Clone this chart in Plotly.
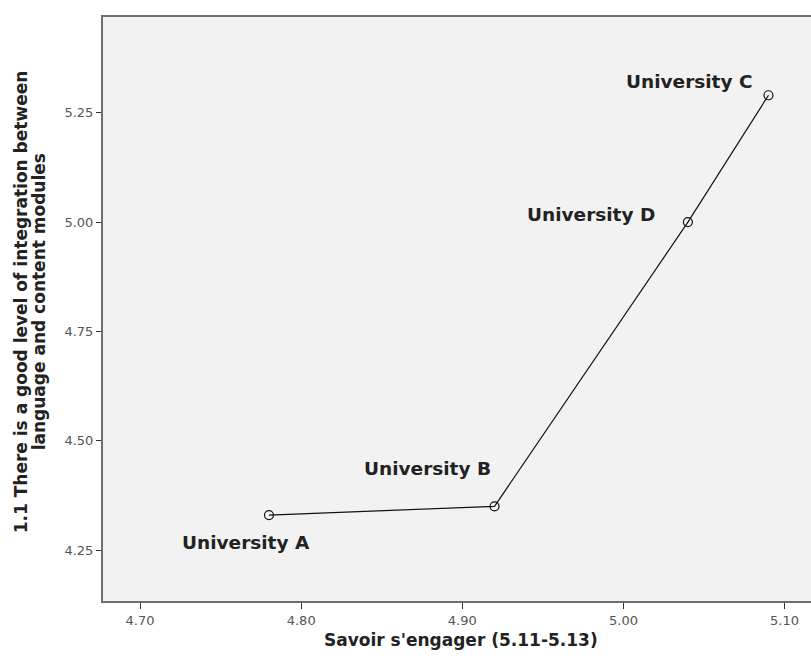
import plotly.graph_objects as go

universities = ["University A", "University B", "University D", "University C"]
savoir = [4.78, 4.92, 5.04, 5.09]
integration = [4.33, 4.35, 5.00, 5.29]
label_xshift = [-23, -67, -97, -79]
label_yshift = [-27, 38, 8, 14]

x_ticks = [4.70, 4.80, 4.90, 5.00, 5.10]
y_ticks = [4.25, 4.50, 4.75, 5.00, 5.25]

x_title = "Savoir s'engager (5.11-5.13)"
y_title_lines = ["1.1 There is a good level of integration between",
                 "language and content modules"]

W, H = 811, 660
L, R, T, B = 102.5, 0, 17, 58.5
pw = W - L - R
ph = H - T - B

fig = go.Figure()
fig.add_trace(go.Scatter(
    x=savoir, y=integration, mode="lines+markers",
    line=dict(color="#111111", width=1.2),
    marker=dict(symbol="circle-open", size=9, color="#111111", line=dict(width=1.2)),
    hoverinfo="skip", showlegend=False,
))

for name, xv, yv, dx, dy in zip(universities, savoir, integration, label_xshift, label_yshift):
    fig.add_annotation(x=xv, y=yv, xref="x", yref="y", text=name, showarrow=False,
                       xshift=dx, yshift=dy, xanchor="center", yanchor="middle",
                       font=dict(family="DejaVu Sans", size=18.5, color="#222222", weight="bold"))

fig.add_annotation(xref="paper", yref="paper",
                   x=(460.5 - L) / pw, y=(H - B - 641) / ph,
                   text=x_title, showarrow=False,
                   xanchor="center", yanchor="middle",
                   font=dict(family="DejaVu Sans", size=17, color="#222222", weight="bold"))
for line, px in zip(y_title_lines, [20, 38]):
    fig.add_annotation(xref="paper", yref="paper",
                       x=(px - L) / pw, y=(H - B - 302) / ph,
                       text=line, showarrow=False, textangle=-90,
                       xanchor="center", yanchor="middle",
                       font=dict(family="DejaVu Sans", size=17, color="#222222", weight="bold"))

fig.update_layout(
    width=W, height=H,
    margin=dict(l=L, r=R, t=T, b=B, pad=0),
    paper_bgcolor="white", plot_bgcolor="#f2f2f2",
    xaxis=dict(range=[4.677, 5.1164], tickvals=x_ticks, ticktext=[f"{v:.2f}" for v in x_ticks],
               showgrid=False, zeroline=False, showline=True, mirror=True,
               linecolor="#6e6e6e", linewidth=2, ticks="outside", ticklen=6,
               tickcolor="#333333", tickwidth=1,
               tickfont=dict(family="DejaVu Sans", size=13, color="#555555")),
    yaxis=dict(range=[4.1335, 5.469], tickvals=y_ticks, ticktext=[f"{v:.2f}" for v in y_ticks],
               showgrid=False, zeroline=False, showline=True, mirror=False,
               linecolor="#6e6e6e", linewidth=2, ticks="outside", ticklen=5,
               tickcolor="#333333", tickwidth=1,
               tickfont=dict(family="DejaVu Sans", size=13, color="#555555")),
)

fig.write_html("out.html", config={"displayModeBar": False},
               post_script="document.body.style.margin='0';document.body.style.overflow='hidden';")
